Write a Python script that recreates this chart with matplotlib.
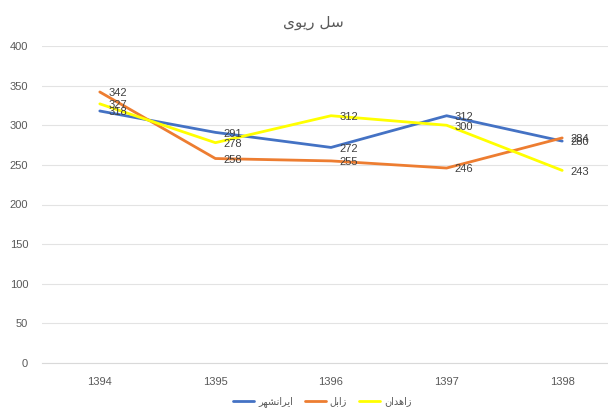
import matplotlib.pyplot as plt

# years and counts
years = ["1394", "1395", "1396", "1397", "1398"]
iranshahr = [318, 291, 272, 312, 280]
zabol = [342, 258, 255, 246, 284]
zahedan = [327, 278, 312, 300, 243]

# Persian labels, written in presentation forms (visual order) so they come out shaped
title_fa = "\uFBFC\uFEEE\uFBFE\uFEAD \uFEDE\uFEB3"            # سل ریوی
name_iranshahr = "\uFEAE\uFEEC\uFEB8\uFEE7\uFE8D\uFEAE\uFBFE\uFE8D"  # ایرانشهر
name_zabol = "\uFEDE\uFE91\uFE8D\uFEAF"                      # زابل
name_zahedan = "\uFEE5\uFE8D\uFEAA\uFEEB\uFE8D\uFEAF"        # زاهدان

plt.rcParams['font.family'] = ['Liberation Sans', 'DejaVu Sans']

fig = plt.figure(figsize=(6.08, 4.08), dpi=100)
ax = fig.add_axes([42 / 608, 45 / 408, 578 / 608, 317 / 408])

x = range(len(years))
series = [
    (iranshahr, "#4472C4", name_iranshahr),
    (zabol, "#ED7D31", name_zabol),
    (zahedan, "#FFFF00", name_zahedan),
]
for vals, col, name in series:
    ax.plot(x, vals, color=col, lw=2, label=name, solid_capstyle="round")
    for xi, v in zip(x, vals):
        ax.annotate(str(v), (xi, v), xytext=(6, -1), textcoords="offset points",
                    ha="left", va="center", fontsize=8, color="#404040")

ax.set_xlim(-0.5, 4.5)
ax.set_ylim(0, 400)
ax.set_yticks(range(0, 401, 50))
ax.set_xticks(list(x))
ax.set_xticklabels(years)
ax.grid(axis="y", color="#e3e3e3", lw=0.8)
ax.set_axisbelow(True)
for s in ["top", "right", "left"]:
    ax.spines[s].set_visible(False)
ax.spines["bottom"].set_color("#d9d9d9")
ax.tick_params(length=0, labelsize=8, labelcolor="#595959")
ax.tick_params(axis="y", pad=10)
ax.tick_params(axis="x", pad=10)

fig.text(0.515, 0.945, title_fa, ha="center", va="center", fontsize=11,
         color="#595959", family=["DejaVu Sans"])

leg = fig.legend(loc="center", bbox_to_anchor=(0.53, 0.015), ncol=3, frameon=False,
                 handlelength=2.2, columnspacing=1.2, handletextpad=0.4,
                 prop={"family": ["DejaVu Sans"], "size": 7})
for t in leg.get_texts():
    t.set_color("#595959")

fig.savefig("out.png", dpi=100)
